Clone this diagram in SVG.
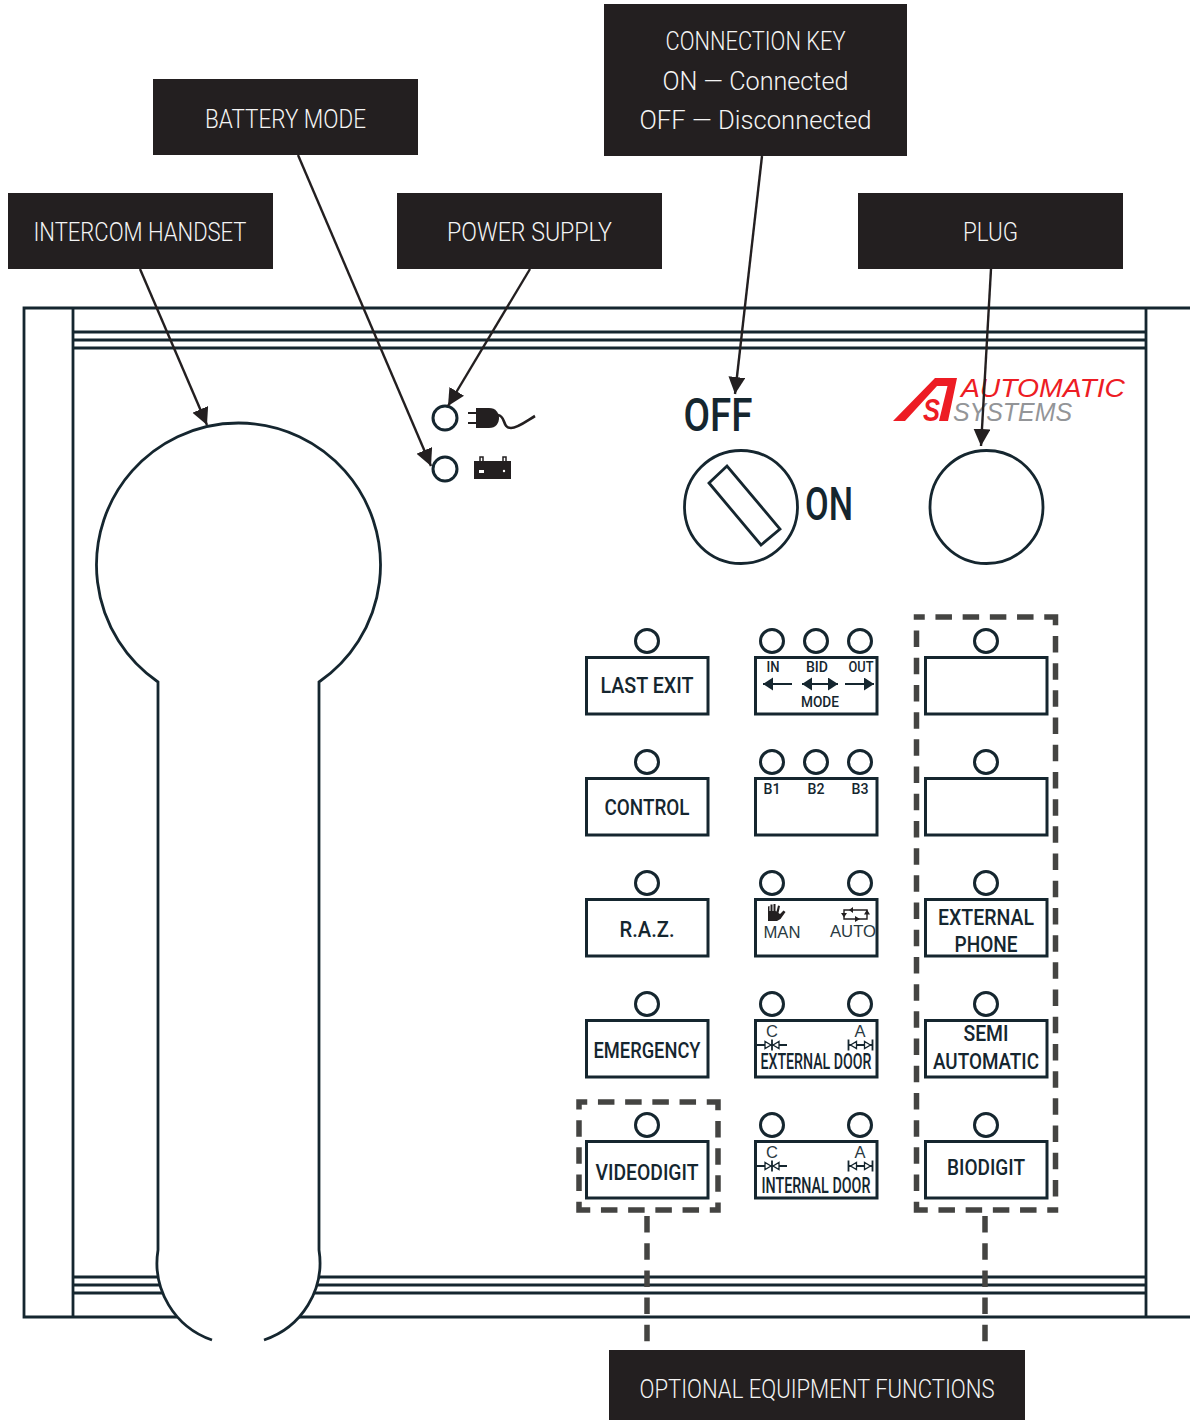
<svg xmlns="http://www.w3.org/2000/svg" width="1190" height="1420" viewBox="0 0 1190 1420">
<defs>
<marker id="ah" markerUnits="userSpaceOnUse" markerWidth="18" markerHeight="18" refX="17" refY="8.5" orient="auto"><path d="M0 0L17 8.5L0 17Z" fill="#231f20"/></marker>
<marker id="sa" markerUnits="userSpaceOnUse" markerWidth="12" markerHeight="14" refX="10" refY="6.500" orient="auto-start-reverse"><path d="M0 0L10 6.500L0 13Z" fill="#15262f"/></marker>
<g id="cA"><path d="M-12 0H12M-12-5.500V5.500M12-5.500V5.500" fill="none" stroke="#15262f" stroke-width="1.800"/><path d="M-10 0L-4-3.500V3.500ZM10 0L4-3.500V3.500Z" fill="#fff" stroke="#15262f" stroke-width="1.300"/></g>
<g id="cC"><path d="M-15 0H15M0-5.500V5.500" fill="none" stroke="#15262f" stroke-width="1.800"/><path d="M-1 0L-7-3.500V3.500ZM1 0L7-3.500V3.500Z" fill="#fff" stroke="#15262f" stroke-width="1.300"/></g>
</defs>
<style>
.box{fill:#231f20}
.cap{font:300 25px "Roboto","Liberation Sans",sans-serif;fill:#f4f4f4;text-anchor:middle}
.ln{fill:none;stroke:#15262f;stroke-width:2.800}
.btn{fill:#fff;stroke:#15262f;stroke-width:3}
.led{fill:#fff;stroke:#15262f;stroke-width:3}
.t{font:500 22px "Roboto","Liberation Sans",sans-serif;fill:#15262f;text-anchor:middle}
.s{font:500 14.5px "Roboto","Liberation Sans",sans-serif;fill:#15262f;text-anchor:middle}
.h{font:16.5px "Liberation Sans",sans-serif;fill:#2a3a42;text-anchor:middle}
.big{font:500 46px "Roboto","Liberation Sans",sans-serif;fill:#15262f;text-anchor:middle}
.con{fill:none;stroke:#231f20;stroke-width:2.400;marker-end:url(#ah)}
.dash{fill:none;stroke:#444442;stroke-width:5.500;stroke-dasharray:16.500 10.700;stroke-dashoffset:5.500}
.logo{font-family:"Liberation Sans",sans-serif;font-style:italic;font-size:26px}
</style>
<rect width="1190" height="1420" fill="#fff"/>
<g id="panel">
<path class="ln" d="M1190 308H24V1317H1190M73 308V1317M1146 308V1317"/>
<path class="ln" d="M73 332H1146M73 340H1146M73 348H1146M73 1277H1146M73 1285H1146M73 1293H1146"/>
</g>
<g id="handset">
<path d="M158 682A142 142 0 1 1 319 682V1250A81.500 81.500 0 0 1 264 1340H212A81.500 81.500 0 0 1 158 1250Z" fill="#fff"/>
<path class="ln" d="M212 1340A81.500 81.500 0 0 1 158 1250V682A142 142 0 1 1 319 682V1250A81.500 81.500 0 0 1 264 1340"/>
</g>
<g id="power-led"><circle class="led" cx="445" cy="418" r="12"/>
<path d="M468 413H477M468 423H477" stroke="#231f20" stroke-width="2.200"/><path d="M476 408H489C496 408 499 413 499 418C499 423 496 428 489 428H476Z" fill="#231f20"/><path d="M498 415C506 416 502 428 511 428C518 428 528 420 535 416" fill="none" stroke="#231f20" stroke-width="2.600"/></g>
<g id="battery-led"><circle class="led" cx="445" cy="469" r="12"/>
<path d="M474 461H511V479H474Z" fill="#231f20"/><path d="M480 461V457H483V461M503 461V457H506V461" fill="#fff" stroke="#231f20" stroke-width="1.500"/><rect x="479" y="470" width="5" height="3" fill="#fff"/><circle cx="504" cy="471" r="1.200" fill="#fff"/></g>
<g id="key-switch">
<text class="big" x="718" y="431" textLength="69" lengthAdjust="spacingAndGlyphs">OFF</text>
<circle class="ln" cx="741" cy="507" r="56.500"/>
<path class="ln" d="M709 483L727 466L780 529L761 545Z"/>
<text class="big" x="829" y="520" textLength="48" lengthAdjust="spacingAndGlyphs">ON</text>
</g>
<g id="logo">
<path d="M893 421L935 378H957L948 421H939L947.500 386H937L905 421Z" fill="#ed1c24"/>
<text x="923" y="421" textLength="17" lengthAdjust="spacingAndGlyphs" style="font:italic 700 31px 'Liberation Sans',sans-serif;fill:#ed1c24">S</text>
<text class="logo" x="961" y="397" fill="#ed1c24" textLength="164" lengthAdjust="spacingAndGlyphs">AUTOMATIC</text>
<text class="logo" x="953" y="421" fill="#939598" textLength="119" lengthAdjust="spacingAndGlyphs">SYSTEMS</text>
</g>
<g id="plug"><circle class="ln" cx="986.500" cy="507" r="56.500"/></g>
<g id="last-exit"><circle class="led" cx="647" cy="641" r="11.500"/><rect class="btn" x="586.500" y="657.500" width="121.500" height="56.500"/><text class="t" x="647" y="693" textLength="93" lengthAdjust="spacingAndGlyphs">LAST EXIT</text></g>
<g id="control"><circle class="led" cx="647" cy="762" r="11.500"/><rect class="btn" x="586.500" y="778.500" width="121.500" height="56.500"/><text class="t" x="647" y="815" textLength="85" lengthAdjust="spacingAndGlyphs">CONTROL</text></g>
<g id="raz"><circle class="led" cx="647" cy="883" r="11.500"/><rect class="btn" x="586.500" y="899.500" width="121.500" height="56.500"/><text class="t" x="647" y="937" textLength="55" lengthAdjust="spacingAndGlyphs">R.A.Z.</text></g>
<g id="emergency"><circle class="led" cx="647" cy="1004" r="11.500"/><rect class="btn" x="586.500" y="1020.500" width="121.500" height="56.500"/><text class="t" x="647" y="1058" textLength="107" lengthAdjust="spacingAndGlyphs">EMERGENCY</text></g>
<g id="videodigit"><circle class="led" cx="647" cy="1125" r="11.500"/><rect class="btn" x="586.500" y="1141.500" width="121.500" height="56.500"/><text class="t" x="647" y="1180" textLength="103" lengthAdjust="spacingAndGlyphs">VIDEODIGIT</text></g>
<g id="mode"><circle class="led" cx="772" cy="641" r="11.500"/><circle class="led" cx="816" cy="641" r="11.500"/><circle class="led" cx="860" cy="641" r="11.500"/><rect class="btn" x="755.500" y="657.500" width="121.500" height="56.500"/>
<text class="s" x="773" y="672" textLength="13" lengthAdjust="spacingAndGlyphs">IN</text><text class="s" x="817" y="672" textLength="22" lengthAdjust="spacingAndGlyphs">BID</text><text class="s" x="861" y="672" textLength="25" lengthAdjust="spacingAndGlyphs">OUT</text>
<path d="M792 684H763" fill="none" stroke="#15262f" stroke-width="2" marker-end="url(#sa)"/>
<path d="M802 684H838" fill="none" stroke="#15262f" stroke-width="2" marker-end="url(#sa)" marker-start="url(#sa)"/>
<path d="M845 684H874" fill="none" stroke="#15262f" stroke-width="2" marker-end="url(#sa)"/>
<text class="s" x="820" y="707" textLength="38" lengthAdjust="spacingAndGlyphs">MODE</text></g>
<g id="barriers"><circle class="led" cx="772" cy="762" r="11.500"/><circle class="led" cx="816" cy="762" r="11.500"/><circle class="led" cx="860" cy="762" r="11.500"/><rect class="btn" x="755.500" y="778.500" width="121.500" height="56.500"/>
<text class="s" x="772" y="794" textLength="17" lengthAdjust="spacingAndGlyphs">B1</text><text class="s" x="816" y="794" textLength="17" lengthAdjust="spacingAndGlyphs">B2</text><text class="s" x="860" y="794" textLength="17" lengthAdjust="spacingAndGlyphs">B3</text></g>
<g id="man-auto"><circle class="led" cx="772" cy="883" r="11.500"/><circle class="led" cx="860" cy="883" r="11.500"/><rect class="btn" x="755.500" y="899.500" width="121.500" height="56.500"/>
<path d="M768 921V906.500L769.500 906V911L770.500 911V904.500L772.500 904.500V911L773.500 911V904L775.500 904V911L776.500 911.500L778 905.500L780 906L778.500 913L780 914L783.500 910.500L785.500 912L780.500 919L777 921Z" fill="#231f20"/>
<path d="M844 910H867V919H844Z" fill="none" stroke="#231f20" stroke-width="1.400"/>
<path d="M853 907V913L849 910ZM855 916V922L860 919ZM841 913H847L844 917.500ZM864 914.500H870L867 909.500Z" fill="#231f20"/>
<text class="h" x="782" y="938" textLength="37" lengthAdjust="spacingAndGlyphs">MAN</text><text class="h" x="853" y="937" textLength="46" lengthAdjust="spacingAndGlyphs">AUTO</text></g>
<g id="external-door"><circle class="led" cx="772" cy="1004" r="11.500"/><circle class="led" cx="860" cy="1004" r="11.500"/><rect class="btn" x="755.500" y="1020.500" width="121.500" height="56.500"/>
<text class="h" x="772" y="1037">C</text><text class="h" x="860" y="1037">A</text><use href="#cC" x="772" y="1045"/><use href="#cA" x="860.500" y="1045"/>
<text class="t" x="816" y="1069" textLength="111" lengthAdjust="spacingAndGlyphs">EXTERNAL DOOR</text></g>
<g id="internal-door"><circle class="led" cx="772" cy="1125" r="11.500"/><circle class="led" cx="860" cy="1125" r="11.500"/><rect class="btn" x="755.500" y="1141.500" width="121.500" height="56.500"/>
<text class="h" x="772" y="1158">C</text><text class="h" x="860" y="1158">A</text><use href="#cC" x="772" y="1166"/><use href="#cA" x="860.500" y="1166"/>
<text class="t" x="816" y="1193" textLength="109" lengthAdjust="spacingAndGlyphs">INTERNAL DOOR</text></g>
<g id="blank-1"><circle class="led" cx="986" cy="641" r="11.500"/><rect class="btn" x="925.500" y="657.500" width="121.500" height="56.500"/></g>
<g id="blank-2"><circle class="led" cx="986" cy="762" r="11.500"/><rect class="btn" x="925.500" y="778.500" width="121.500" height="56.500"/></g>
<g id="external-phone"><circle class="led" cx="986" cy="883" r="11.500"/><rect class="btn" x="925.500" y="899.500" width="121.500" height="56.500"/><text class="t" x="986" y="925" textLength="96" lengthAdjust="spacingAndGlyphs">EXTERNAL</text><text class="t" x="986" y="952" textLength="63" lengthAdjust="spacingAndGlyphs">PHONE</text></g>
<g id="semi-automatic"><circle class="led" cx="986" cy="1004" r="11.500"/><rect class="btn" x="925.500" y="1020.500" width="121.500" height="56.500"/><text class="t" x="986" y="1041" textLength="45" lengthAdjust="spacingAndGlyphs">SEMI</text><text class="t" x="986" y="1069" textLength="106" lengthAdjust="spacingAndGlyphs">AUTOMATIC</text></g>
<g id="biodigit"><circle class="led" cx="986" cy="1125" r="11.500"/><rect class="btn" x="925.500" y="1141.500" width="121.500" height="56.500"/><text class="t" x="986" y="1175" textLength="78" lengthAdjust="spacingAndGlyphs">BIODIGIT</text></g>
<g id="connectors">
<path class="con" d="M140 269L207 425"/>
<path class="con" d="M298 155L431 466"/>
<path class="con" d="M530 269L448 406"/>
<path class="con" d="M762 156L735 394"/>
<path class="con" d="M991 269L981 446"/>
<path class="dash" d="M576.250 1102H720.750M718 1099.250V1212.750M720.750 1210H576.250M579 1212.750V1099.250"/>
<path class="dash" d="M913.750 617H1058.250M1055.500 614.250V1212.750M1058.250 1210H913.750M916.500 1212.750V614.250"/>
<path class="dash" style="stroke-dashoffset:0" d="M647 1216V1350M985 1216V1350"/>
</g>
<g id="label-handset"><rect class="box" x="8" y="193" width="265" height="76"/><text class="cap" x="140" y="241" textLength="213" lengthAdjust="spacingAndGlyphs">INTERCOM HANDSET</text></g>
<g id="label-battery"><rect class="box" x="153" y="79" width="265" height="76"/><text class="cap" x="285.500" y="128" textLength="161" lengthAdjust="spacingAndGlyphs">BATTERY MODE</text></g>
<g id="label-power"><rect class="box" x="397" y="193" width="265" height="76"/><text class="cap" x="529.500" y="241" textLength="165" lengthAdjust="spacingAndGlyphs">POWER SUPPLY</text></g>
<g id="label-key"><rect class="box" x="604" y="4" width="303" height="152"/>
<text class="cap" x="755.500" y="50" textLength="180" lengthAdjust="spacingAndGlyphs">CONNECTION KEY</text>
<text class="cap" x="755.500" y="90" textLength="186" lengthAdjust="spacingAndGlyphs">ON — Connected</text>
<text class="cap" x="755.500" y="129" textLength="232" lengthAdjust="spacingAndGlyphs">OFF — Disconnected</text></g>
<g id="label-plug"><rect class="box" x="858" y="193" width="265" height="76"/><text class="cap" x="990.500" y="241" textLength="55" lengthAdjust="spacingAndGlyphs">PLUG</text></g>
<g id="label-optional"><rect class="box" x="609" y="1350" width="416" height="70"/><text class="cap" x="817" y="1398" textLength="355" lengthAdjust="spacingAndGlyphs">OPTIONAL EQUIPMENT FUNCTIONS</text></g>
</svg>
